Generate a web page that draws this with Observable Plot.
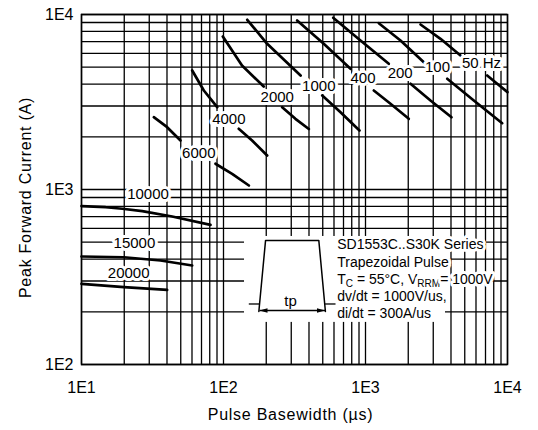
<!DOCTYPE html>
<html><head><meta charset="utf-8">
<script src="https://cdn.jsdelivr.net/npm/d3@7"></script>
<script src="https://cdn.jsdelivr.net/npm/@observablehq/plot@0.6"></script>
<style>body{margin:0;background:#fff}</style>
</head><body><div id="chart"></div>
<script>
// Axis ticks
const xTicks = [10, 100, 1000, 10000];
const xTickLabels = ["1E1", "1E2", "1E3", "1E4"];
const yTicks = [100, 1000, 10000];
const yTickLabels = ["1E2", "1E3", "1E4"];
const gridMultipliers = [1, 2, 3, 4, 5, 6, 7, 8, 9];
const xDecades = [10, 100, 1000];
const yDecades = [100, 1000];

// Curves (pulse basewidth µs, peak current A); null = gap for label
const x50 = [2440, 3375, 4667, null, 7194, 8463, 10000];
const y50 = [8767, 7262, 5832, null, 4481, 4018, 3600];
const x100 = [1241, 1764, 2574, null, 3762, 5790, 9177];
const y100 = [8920, 7102, 5339, null, 4292, 3226, 2393];
const x200 = [592, 922, 1459, null, 2075, 2869, 4034];
const y200 = [9575, 7102, 5228, null, 4018, 3226, 2589];
const x400 = [330, 508, 784, null, 1144, 1500, 2018];
const y400 = [9241, 6801, 4894, null, 3679, 3088, 2535];
const x1000 = [147, 203, 349, null, 496, 667, 907];
const y1000 = [9326, 6801, 4481, null, 3444, 2765, 2174];
const x2000 = [98.9, 135, 192, null, 259, 321, 399];
const y2000 = [7486, 5113, 3878, null, 2953, 2535, 2217];
const x4000 = [60.2, 72.7, 90.3, null, 128, 159, 203];
const y4000 = [4786, 3679, 2953, null, 2223, 1905, 1564];
const x6000 = [32.3, 40.1, 49.8, null, 87.8, 115, 151];
const y6000 = [2589, 2270, 1905, null, 1403, 1229, 1054];
const x10000 = [10, 14.8, 19.4, 26.8, 43.5, 81];
const y10000 = [803, 792, 776, 752, 701, 628];
const x15000 = [10, 19.9, 36, 60.2];
const y15000 = [414, 410, 393, 368];
const x20000 = [10, 19.9, 40.1];
const y20000 = [289, 277, 267];

// Curve labels
const freqLabels = ["50 Hz", "100", "200", "400", "1000", "2000", "4000", "6000", "10000", "15000", "20000"];
const labelX = [6561, 3214, 1755, 960, 469, 239, 109, 67, 29.4, 23.6, 21.5];
const labelY = [5284, 4979, 4619, 4320, 3888, 3369, 2529, 1606, 936, 495, 333];

// Inset (in data units)
const insetBoxX = [140.6, 3659];
const insetBoxY = [174, 539];
const trapX = [177.4, 197.8, 469, 522];
const trapY = [200.9, 512, 512, 200.9];
const stubX1 = [150.7, 519, 179.3];
const stubX2 = [179, 615, 518.6];
const stubY = [221.7, 221.7, 203.5];
const arrowEndX = [179.3, 518.6];
const arrowEndY = [203.5, 203.5];
const tpPos = [296.3, 230];
const insetLines = ["SD1553C..S30K Series", "Trapezoidal Pulse", "TC = 55°C, VRRM= 1000V", "dv/dt = 1000V/us,", "di/dt = 300A/us"];
const insetLineX = 632;
const insetLineY = [481.8, 384.7, 307.2, 245.3, 195.9];

const xTitle = "Pulse Basewidth (µs)";
const yTitle = "Peak Forward Current (A)";

// Build tables
const gridX = xDecades.flatMap(d => gridMultipliers.map(m => m * d)).concat([10000]);
const gridY = yDecades.flatMap(d => gridMultipliers.map(m => m * d)).concat([10000]);
const series = [
  ["50", x50, y50], ["100", x100, y100], ["200", x200, y200], ["400", x400, y400],
  ["1000", x1000, y1000], ["2000", x2000, y2000], ["4000", x4000, y4000], ["6000", x6000, y6000],
  ["10000", x10000, y10000], ["15000", x15000, y15000], ["20000", x20000, y20000]
];
const curveRows = series.flatMap(([f, xs, ys]) => xs.map((x, i) => ({f, x, y: ys[i]})));
const labelRows = freqLabels.map((t, i) => ({t, x: labelX[i], y: labelY[i]}));
const boxRows = [{x1: insetBoxX[0], x2: insetBoxX[1], y1: insetBoxY[0], y2: insetBoxY[1]}];
const trapRows = trapX.map((x, i) => ({x, y: trapY[i]}));
const stubRows = stubX1.map((x1, i) => ({x1, x2: stubX2[i], y: stubY[i]}));
const insetRows = insetLines.map((t, i) => ({t, x: insetLineX, y: insetLineY[i]}));

const headLeft = {draw(ctx) { ctx.moveTo(0, 0); ctx.lineTo(8, -2.3); ctx.lineTo(8, 2.3); ctx.closePath(); }};
const headRight = {draw(ctx) { ctx.moveTo(0, 0); ctx.lineTo(-8, -2.3); ctx.lineTo(-8, 2.3); ctx.closePath(); }};

const chart = Plot.plot({
  width: 538, height: 430,
  marginTop: 14, marginRight: 31, marginBottom: 66, marginLeft: 81,
  style: {fontFamily: "'Liberation Sans', Arial, sans-serif", fontSize: "16px", background: "white", color: "black"},
  x: {type: "log", domain: [10, 10000], ticks: xTicks, tickFormat: d => xTickLabels[xTicks.indexOf(d)], tickSize: 0, tickPadding: 17, label: null},
  y: {type: "log", domain: [100, 10000], ticks: yTicks, tickFormat: d => yTickLabels[yTicks.indexOf(d)], tickSize: 0, tickPadding: 8, label: null},
  marks: [
    Plot.ruleX(gridX, {stroke: "black", strokeWidth: 1.3}),
    Plot.ruleY(gridY, {stroke: "black", strokeWidth: 1.3}),
    Plot.rect(boxRows, {x1: "x1", x2: "x2", y1: "y1", y2: "y2", fill: "white"}),
    Plot.frame({stroke: "black", strokeWidth: 1.5}),
    Plot.line(curveRows, {x: "x", y: "y", z: "f", stroke: "black", strokeWidth: 2.7}),
    Plot.text(labelRows, {x: "x", y: "y", text: "t", fill: "black", stroke: "white", strokeWidth: 6, paintOrder: "stroke", strokeLinejoin: "round", fontSize: 15}),
    Plot.line(trapRows, {x: "x", y: "y", stroke: "black", strokeWidth: 1.5}),
    Plot.link(stubRows, {x1: "x1", x2: "x2", y1: "y", y2: "y", stroke: "black", strokeWidth: 1.3}),
    Plot.dot([{x: arrowEndX[0], y: arrowEndY[0]}], {x: "x", y: "y", symbol: headLeft, fill: "black", stroke: "none"}),
    Plot.dot([{x: arrowEndX[1], y: arrowEndY[1]}], {x: "x", y: "y", symbol: headRight, fill: "black", stroke: "none"}),
    Plot.text(["tp"], {x: () => tpPos[0], y: () => tpPos[1], fontSize: 15, fill: "black"}),
    Plot.text(insetRows, {x: "x", y: "y", text: "t", textAnchor: "start", fill: "black", stroke: "white", strokeWidth: 6, paintOrder: "stroke", strokeLinejoin: "round", fontSize: 14}),
    Plot.text([xTitle], {frameAnchor: "bottom", textAnchor: "middle", lineAnchor: "middle", dy: 50, dx: -4, fontSize: 16, fill: "black"}),
    Plot.text([yTitle], {frameAnchor: "left", textAnchor: "middle", lineAnchor: "middle", dx: -56, dy: 8, rotate: -90, fontSize: 16, fill: "black"})
  ]
});

// Post-process: subscripts and letter spacing of titles
d3.select(chart).selectAll("text").each(function() {
  const el = d3.select(this);
  const s = this.textContent;
  if (s === xTitle || s === yTitle) el.style("letter-spacing", "0.75px");
  if (s === insetLines[2]) {
    el.text(null);
    el.append("tspan").text("T");
    el.append("tspan").attr("dy", 3).attr("font-size", 10).text("C");
    el.append("tspan").attr("dy", -3).text(" = 55°C, V");
    el.append("tspan").attr("dy", 3).attr("font-size", 10).text("RRM");
    el.append("tspan").attr("dy", -3).text("= 1000V");
  }
});

document.getElementById("chart").appendChild(chart);
</script></body></html>
